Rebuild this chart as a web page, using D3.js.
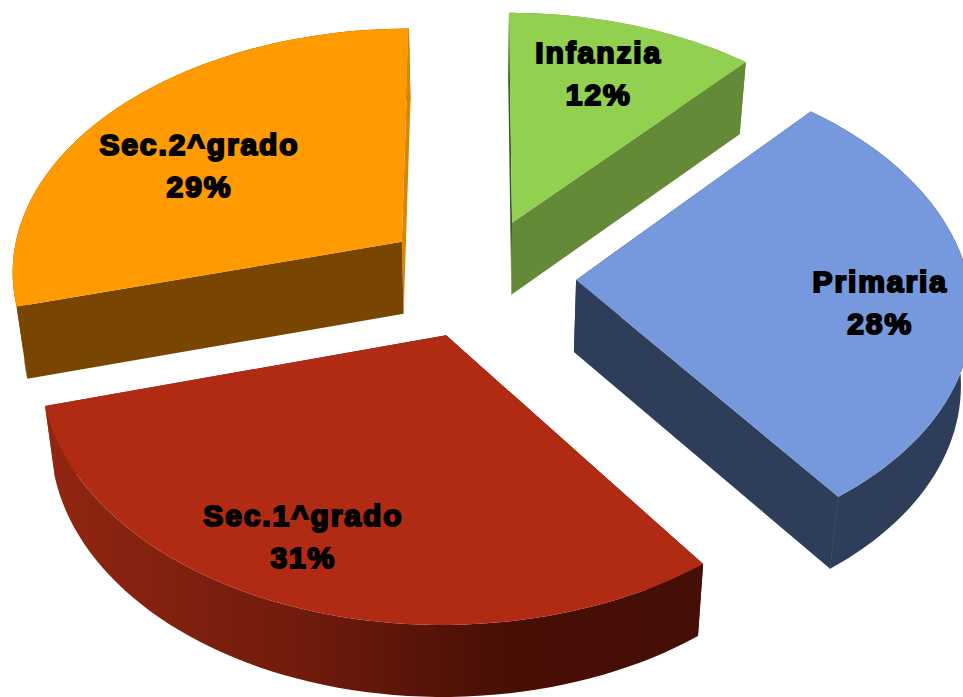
<!DOCTYPE html>
<html lang="en">

<head>
    <title>Ripartizione per ordine di scuola</title>
    <meta charset="UTF-8">
    <script src="https://cdn.jsdelivr.net/npm/d3@7"></script>
    <style>
        html, body {
            margin: 0;
            padding: 0;
            background: #fff;
            overflow: hidden;
        }

        svg {
            display: block;
        }

        .label {
            font-family: "Liberation Sans", Arial, sans-serif;
            font-weight: bold;
            font-size: 30px;
            letter-spacing: 1.9px;
            fill: #000;
            stroke: #000;
            stroke-width: 2px;
            text-anchor: middle;
        }
    </style>
</head>

<body>
    <div id="chart"></div>

    <script>
        const categories = ["Infanzia", "Primaria", "Sec.1^grado", "Sec.2^grado"];
        const percentages = [11.6, 28.4, 30.7, 29.3];

        const topColors = ["#92d050", "#7599dc", "#b12b14", "#ff9a00"];
        const wallColors = ["#648a37", "#2d3d5a", "url(#sec1Wall)", "#784600"];
        const backWallColors = ["#40592a", "#2d3d5a", "#450e06", "#d98600"];

        const width = 963, height = 697;

        // fake 3D: pie lies on a plane, near side gets bigger
        const cx = 480, cy = 275, scaleX = 392, scaleY = 243.7, persp = 0.1096;
        const depth = 72, squeeze = 0.977;
        const explode = [0.235, 0.235, 0.255, 0.235];
        const nudge = [[0, 0], [4, 2], [0, 0], [-6, 1]];
        const labelRadius = [0.72, 0.78, 0.79, 0.66];
        const labelTurn = [-1.6, 4.2, 4, -8];
        const labelShift = [[4, -1], [-4, 0], [-3, 0], [10, -1]];

        const svg = d3.select("#chart")
            .append("svg")
            .attr("width", width)
            .attr("height", height);

        const grad = svg.append("defs").append("linearGradient")
            .attr("id", "sec1Wall")
            .attr("gradientUnits", "userSpaceOnUse")
            .attr("x1", 44).attr("x2", 700).attr("y1", 0).attr("y2", 0);
        [[0, "#922612"], [0.4, "#6f1b0c"], [0.62, "#521207"], [0.72, "#470e06"], [1, "#450e06"]].forEach(s => {
            grad.append("stop").attr("offset", s[0]).attr("stop-color", s[1]);
        });

        const pie = d3.pie().sort(null).value(d => d)(percentages);

        function project(x, y) {
            const s = 1 / (1 - persp * y);
            return [cx + scaleX * x * s, cy + scaleY * y * s];
        }

        // point on a slice: polar around its own shifted apex
        function slicePoint(d, angle, r) {
            const mid = (d.startAngle + d.endAngle) / 2;
            const e = explode[d.index];
            const p = project(
                e * Math.sin(mid) + r * Math.sin(angle),
                -e * Math.cos(mid) - r * Math.cos(angle)
            );
            return [p[0] + nudge[d.index][0], p[1] + nudge[d.index][1]];
        }

        const lower = p => [cx + (p[0] - cx) * squeeze, p[1] + depth];
        const line = d3.line();

        const drawOrder = [0, 3, 1, 2];
        drawOrder.forEach(i => {
            const d = pie[i];
            const steps = d3.range(0, 61).map(k => d.startAngle + (d.endAngle - d.startAngle) * k / 60);
            const rim = steps.map(a => slicePoint(d, a, 1));
            const apex = slicePoint(d, 0, 0);
            const g = svg.append("g");

            // Sec.2 faces the other way round from the rest
            const backEnd = i === 3 ? rim[60] : rim[0];
            const frontEnd = i === 3 ? rim[0] : rim[60];

            // walls first, the top face covers what is hidden
            g.append("path")
                .attr("d", line(rim.concat(rim.map(lower).reverse())) + "Z")
                .attr("fill", wallColors[i]);
            g.append("path")
                .attr("d", line([apex, backEnd, lower(backEnd), lower(apex)]) + "Z")
                .attr("fill", backWallColors[i]);
            g.append("path")
                .attr("d", line([apex, frontEnd, lower(frontEnd), lower(apex)]) + "Z")
                .attr("fill", wallColors[i]);
            // hides the pale seam where the two Primaria walls meet
            if (i === 1) {
                g.append("path")
                    .attr("d", line([frontEnd, lower(frontEnd)]))
                    .attr("stroke", wallColors[i])
                    .attr("stroke-width", 0.8);
            }

            g.append("path")
                .attr("d", line([apex].concat(rim)) + "Z")
                .attr("fill", topColors[i]);
        });

        pie.forEach((d, i) => {
            const mid = (d.startAngle + d.endAngle) / 2 + labelTurn[i] * Math.PI / 180;
            const p = slicePoint(d, mid, labelRadius[i]);
            const x = p[0] + labelShift[i][0], y = p[1] + labelShift[i][1];
            const t = svg.append("text")
                .attr("class", "label")
                .attr("x", x)
                .attr("y", y);
            t.append("tspan").attr("x", x).attr("dy", -12).text(categories[i]);
            t.append("tspan").attr("x", x).attr("dy", 42).text(Math.round(percentages[i]) + "%");
        });
    </script>
</body>

</html>
